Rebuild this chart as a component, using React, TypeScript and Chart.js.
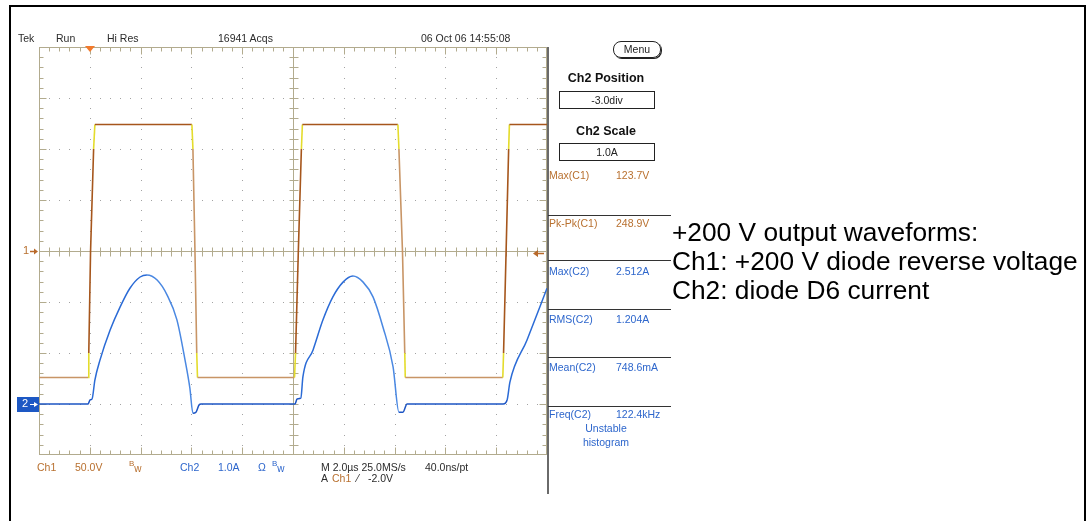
import React, { useEffect, useRef } from "react";
import { Chart, registerables } from "chart.js";

Chart.register(...registerables);

// ---- Data read from the capture (time in µs, 2 µs/div) ----
const ch1TimeUs = [0, 1.93, 1.96, 2.03, 2.15, 2.2, 6.02, 6.06, 6.14, 6.21, 6.24, 10.06, 10.1, 10.21, 10.33, 10.37, 14.13, 14.17, 14.31, 14.4, 14.42, 18.26, 18.29, 18.39, 18.49, 18.52, 20];
const ch1Volts = [-124, -124, -100, 0, 100, 124, 124, 100, 0, -100, -124, -124, -100, 0, 100, 124, 124, 100, 0, -100, -124, -124, -100, 0, 100, 124, 124];

const ch2TimeUs = [0, 1.93, 2.01, 2.09, 2.2, 2.4, 2.8, 3.19, 3.58, 3.98, 4.25, 4.65, 5.04, 5.43, 5.75, 5.94, 6.06, 6.18, 6.3, 6.38, 10.08, 10.16, 10.31, 10.39, 10.79, 11.18, 11.57, 11.97, 12.36, 12.76, 13.15, 13.54, 13.94, 14.17, 14.33, 14.49, 18.27, 18.43, 18.54, 19.21, 20];
const ch2Amps = [0, 0, 0.08, 0.1, 0.47, 0.86, 1.45, 1.9, 2.27, 2.49, 2.53, 2.43, 2.14, 1.65, 0.86, 0.31, -0.18, -0.16, -0.02, 0, 0, 0.1, 0.12, 0.53, 1.06, 1.65, 2.1, 2.39, 2.51, 2.39, 2.1, 1.51, 0.73, -0.16, -0.16, 0, 0, 0.08, 0.43, 1.25, 2.27];

const timeRangeUs = [0, 20];
const ch1RangeV = [-200, 200];
const ch2RangeA = [-1, 7];
const triggerTimeUs = 2.0;
const triggerLevelV = -2.0;

const headerLabels = ["Tek", "Run", "Hi Res", "16941 Acqs", "06 Oct 06 14:55:08"];
const c1Measures = [["Max(C1)", "123.7V"], ["Pk-Pk(C1)", "248.9V"]];
const c2Measures = [["Max(C2)", "2.512A"], ["RMS(C2)", "1.204A"], ["Mean(C2)", "748.6mA"], ["Freq(C2)", "122.4kHz"]];
const captionLines = ["+200 V output waveforms:", "Ch1: +200 V diode reverse voltage", "Ch2: diode D6 current"];

const SCOPE_FONT = '"Liberation Sans", Arial, sans-serif';
const ORANGE_TXT = "#b8702f";
const BLUE_TXT = "#2d66cc";
const GRAT = "#b2ab8e";

const graticulePlugin = {
  id: "graticule",
  beforeDatasetsDraw(chart: any) {
    const { ctx, chartArea: a } = chart;
    const xs = chart.scales.x;
    const ys = chart.scales.y;
    const L = Math.round(a.left) + 0.5;
    const R = Math.round(a.right) - 0.5;
    const T = Math.round(a.top) + 0.5;
    const B = Math.round(a.bottom) - 0.5;
    ctx.save();
    ctx.fillStyle = "#a3a3a3";
    for (let d = 1; d < 10; d++) {
      if (d === 5) continue;
      const px = Math.round(xs.getPixelForValue(d * 2));
      for (let s = 1; s < 40; s++) {
        const py = Math.round(ys.getPixelForValue(-200 + s * 10));
        ctx.fillRect(px, py, 1, 1);
      }
    }
    for (let d = 1; d < 8; d++) {
      if (d === 4) continue;
      const py = Math.round(ys.getPixelForValue(-200 + d * 50));
      for (let s = 1; s < 50; s++) {
        const px = Math.round(xs.getPixelForValue(s * 0.4));
        ctx.fillRect(px, py, 1, 1);
      }
    }
    ctx.strokeStyle = GRAT;
    ctx.lineWidth = 1;
    ctx.strokeRect(L, T, R - L, B - T);
    const cy = Math.round(ys.getPixelForValue(0)) + 0.5;
    const cx = Math.round(xs.getPixelForValue(10)) + 0.5;
    ctx.beginPath();
    ctx.moveTo(L, cy);
    ctx.lineTo(R, cy);
    ctx.moveTo(cx, T);
    ctx.lineTo(cx, B);
    for (let s = 1; s < 50; s++) {
      const px = Math.round(xs.getPixelForValue(s * 0.4)) + 0.5;
      const len = s % 5 === 0 ? 7 : 4;
      ctx.moveTo(px, T);
      ctx.lineTo(px, T + len);
      ctx.moveTo(px, B);
      ctx.lineTo(px, B - len);
      ctx.moveTo(px, cy - 4);
      ctx.lineTo(px, cy + 5);
    }
    for (let s = 1; s < 40; s++) {
      const py = Math.round(ys.getPixelForValue(-200 + s * 10)) + 0.5;
      const len = s % 5 === 0 ? 7 : 4;
      ctx.moveTo(L, py);
      ctx.lineTo(L + len, py);
      ctx.moveTo(R, py);
      ctx.lineTo(R - len, py);
      ctx.moveTo(cx - 4, py);
      ctx.lineTo(cx + 5, py);
    }
    ctx.stroke();
    ctx.restore();
  },
  afterDraw(chart: any) {
    const { ctx, chartArea: a } = chart;
    const xs = chart.scales.x;
    const ys = chart.scales.y;
    const y2s = chart.scales.y2;
    ctx.save();
    // trigger position marker
    const tx = Math.round(xs.getPixelForValue(triggerTimeUs));
    ctx.fillStyle = "#f27a2c";
    ctx.beginPath();
    ctx.moveTo(tx - 5, a.top - 1);
    ctx.lineTo(tx + 5, a.top - 1);
    ctx.lineTo(tx, a.top + 5);
    ctx.closePath();
    ctx.fill();
    // trigger level marker (right edge)
    const ly = Math.round(ys.getPixelForValue(triggerLevelV)) + 0.5;
    ctx.strokeStyle = "#b8692a";
    ctx.fillStyle = "#b8692a";
    ctx.lineWidth = 1.5;
    ctx.beginPath();
    ctx.moveTo(a.right - 3, ly);
    ctx.lineTo(a.right - 11, ly);
    ctx.stroke();
    ctx.beginPath();
    ctx.moveTo(a.right - 14, ly);
    ctx.lineTo(a.right - 9, ly - 3.5);
    ctx.lineTo(a.right - 9, ly + 3.5);
    ctx.closePath();
    ctx.fill();
    // ch1 ground marker arrow
    const g1 = Math.round(ys.getPixelForValue(0)) + 0.5;
    ctx.beginPath();
    ctx.moveTo(30, g1);
    ctx.lineTo(35, g1);
    ctx.stroke();
    ctx.beginPath();
    ctx.moveTo(38, g1);
    ctx.lineTo(34, g1 - 3);
    ctx.lineTo(34, g1 + 3);
    ctx.closePath();
    ctx.fill();
    // ch2 ground marker box + arrow
    const g2 = Math.round(y2s.getPixelForValue(0)) + 0.5;
    ctx.fillStyle = "#1d58c4";
    ctx.fillRect(17, g2 - 7.5, 22, 15);
    ctx.strokeStyle = "#fff";
    ctx.fillStyle = "#fff";
    ctx.lineWidth = 1;
    ctx.beginPath();
    ctx.moveTo(30, g2);
    ctx.lineTo(35, g2);
    ctx.stroke();
    ctx.beginPath();
    ctx.moveTo(38, g2);
    ctx.lineTo(34, g2 - 2.5);
    ctx.lineTo(34, g2 + 2.5);
    ctx.closePath();
    ctx.fill();
    ctx.restore();
  },
};

const ch1SegmentColor = (c: any) => {
  const a = c.p0.parsed.y;
  const b = c.p1.parsed.y;
  if (a > 110 && b > 110) return "#a6561c";
  if (a < -110 && b < -110) return "#c89566";
  const mid = (a + b) / 2;
  if (Math.abs(mid) > 105) return "#e4dc2c";
  return b > a ? "#a6561c" : "#c89566";
};

const ch2SegmentColor = (c: any) => {
  const a = c.p0.parsed.y;
  const b = c.p1.parsed.y;
  if (Math.max(a, b) < 0.2) return "#1d55c4";
  return b >= a ? "#2b6bd6" : "#4a88e2";
};

type TxtProps = {
  x: number;
  y: number;
  children: React.ReactNode;
  color?: string;
  size?: number;
  weight?: number;
  center?: boolean;
  font?: string;
};

const Txt = ({ x, y, children, color = "#2b2b2b", size = 10.5, weight = 400, center = false, font = SCOPE_FONT }: TxtProps) => (
  <div
    style={{
      position: "absolute",
      left: x,
      top: y - size * 0.6,
      fontSize: size,
      lineHeight: `${size * 1.2}px`,
      color,
      fontFamily: font,
      fontWeight: weight,
      whiteSpace: "nowrap",
      transform: center ? "translateX(-50%)" : undefined,
    }}
  >
    {children}
  </div>
);

const Bw = ({ x, y, color }: { x: number; y: number; color: string }) => (
  <div style={{ position: "absolute", left: x, top: y - 8, fontFamily: SCOPE_FONT, color, lineHeight: "10px", whiteSpace: "nowrap" }}>
    <span style={{ fontSize: 8, verticalAlign: "top" }}>B</span>
    <span style={{ fontSize: 10, position: "relative", top: 3 }}>w</span>
  </div>
);

export default function App() {
  const canvasRef = useRef<HTMLCanvasElement | null>(null);

  useEffect(() => {
    if (!canvasRef.current) return;
    const chart = new Chart(canvasRef.current, {
      type: "line",
      data: {
        datasets: [
          {
            label: "Ch1",
            data: ch1TimeUs.map((t, i) => ({ x: t, y: ch1Volts[i] })),
            yAxisID: "y",
            borderColor: "#a6561c",
            borderWidth: 1.6,
            pointRadius: 0,
            tension: 0,
            segment: { borderColor: ch1SegmentColor },
          },
          {
            label: "Ch2",
            data: ch2TimeUs.map((t, i) => ({ x: t, y: ch2Amps[i] })),
            yAxisID: "y2",
            borderColor: "#2563cf",
            borderWidth: 1.5,
            pointRadius: 0,
            cubicInterpolationMode: "monotone",
            segment: { borderColor: ch2SegmentColor },
          },
        ],
      },
      options: {
        responsive: false,
        animation: false,
        devicePixelRatio: 1,
        events: [],
        layout: { padding: { left: 39, top: 47, right: 543, bottom: 66 } },
        plugins: { legend: { display: false }, tooltip: { enabled: false }, title: { display: false } },
        scales: {
          x: { type: "linear", min: timeRangeUs[0], max: timeRangeUs[1], display: false },
          y: { type: "linear", min: ch1RangeV[0], max: ch1RangeV[1], display: false },
          y2: { type: "linear", min: ch2RangeA[0], max: ch2RangeA[1], display: false },
        },
      },
      plugins: [graticulePlugin],
    } as any);
    return () => chart.destroy();
  }, []);

  const headerX = [18, 56, 107, 218, 421];
  const c1Y = [175, 223];
  const c2Y = [271, 319, 367, 414];
  const sepY = [215, 260, 309, 357, 406];
  const capBaselines = [242, 271, 300];

  return (
    <div style={{ position: "absolute", left: 0, top: 0, width: 1090, height: 521, background: "#fff", overflow: "hidden" }}>
      <canvas ref={canvasRef} width={1090} height={521} style={{ position: "absolute", left: 0, top: 0 }} />

      {/* outer frame */}
      <div style={{ position: "absolute", left: 9, top: 5, width: 1077, height: 2, background: "#000" }} />
      <div style={{ position: "absolute", left: 9, top: 5, width: 2, height: 516, background: "#000" }} />
      <div style={{ position: "absolute", left: 1084, top: 5, width: 2, height: 516, background: "#000" }} />

      {/* scope screen right edge */}
      <div style={{ position: "absolute", left: 547, top: 47, width: 2, height: 447, background: "#6a6a6a" }} />

      {headerLabels.map((s, i) => (
        <Txt key={s} x={headerX[i]} y={38}>{s}</Txt>
      ))}

      {/* ground marker digits */}
      <Txt x={23} y={251} color={ORANGE_TXT} size={11}>1</Txt>
      <Txt x={22} y={404} color="#fff" size={11}>2</Txt>

      {/* right panel */}
      <div
        style={{
          position: "absolute", left: 613, top: 41, width: 46, height: 15, border: "1px solid #222", borderRadius: 8,
          boxShadow: "1px 1px 0 #222", fontFamily: SCOPE_FONT, fontSize: 10.5, lineHeight: "15px", textAlign: "center", color: "#222",
        }}
      >
        Menu
      </div>
      <Txt x={606} y={78} size={12.5} weight={700} center color="#111">Ch2 Position</Txt>
      <div style={{ position: "absolute", left: 559, top: 91, width: 94, height: 16, border: "1px solid #222", fontFamily: SCOPE_FONT, fontSize: 10.5, lineHeight: "16px", textAlign: "center", color: "#222" }}>-3.0div</div>
      <Txt x={606} y={131} size={12.5} weight={700} center color="#111">Ch2 Scale</Txt>
      <div style={{ position: "absolute", left: 559, top: 143, width: 94, height: 16, border: "1px solid #222", fontFamily: SCOPE_FONT, fontSize: 10.5, lineHeight: "16px", textAlign: "center", color: "#222" }}>1.0A</div>

      {sepY.map((y) => (
        <div key={y} style={{ position: "absolute", left: 548, top: y, width: 123, height: 1, background: "#333" }} />
      ))}
      {c1Measures.map(([k, v], i) => (
        <React.Fragment key={k}>
          <Txt x={549} y={c1Y[i]} color={ORANGE_TXT}>{k}</Txt>
          <Txt x={616} y={c1Y[i]} color={ORANGE_TXT}>{v}</Txt>
        </React.Fragment>
      ))}
      {c2Measures.map(([k, v], i) => (
        <React.Fragment key={k}>
          <Txt x={549} y={c2Y[i]} color={BLUE_TXT}>{k}</Txt>
          <Txt x={616} y={c2Y[i]} color={BLUE_TXT}>{v}</Txt>
        </React.Fragment>
      ))}
      <Txt x={606} y={428} color={BLUE_TXT} center>Unstable</Txt>
      <Txt x={606} y={442} color={BLUE_TXT} center>histogram</Txt>

      {/* bottom status */}
      <Txt x={37} y={467} color={ORANGE_TXT}>Ch1</Txt>
      <Txt x={75} y={467} color={ORANGE_TXT}>50.0V</Txt>
      <Bw x={129} y={467} color={ORANGE_TXT} />
      <Txt x={180} y={467} color={BLUE_TXT}>Ch2</Txt>
      <Txt x={218} y={467} color={BLUE_TXT}>1.0A</Txt>
      <Txt x={258} y={467} color={BLUE_TXT}>Ω</Txt>
      <Bw x={272} y={467} color={BLUE_TXT} />
      <Txt x={321} y={467}>M 2.0µs 25.0MS/s</Txt>
      <Txt x={425} y={467}>40.0ns/pt</Txt>
      <Txt x={321} y={478}>A</Txt>
      <Txt x={332} y={478} color={ORANGE_TXT}>Ch1</Txt>
      <Txt x={357} y={478}>⁄</Txt>
      <Txt x={368} y={478}>-2.0V</Txt>

      {/* caption */}
      {captionLines.map((s, i) => (
        <div
          key={s}
          style={{
            position: "absolute", left: 672, top: capBaselines[i] - 25, fontSize: 26.3, lineHeight: "31px",
            fontFamily: '"Liberation Sans", Arial, Helvetica, sans-serif', color: "#000", whiteSpace: "nowrap",
          }}
        >
          {s}
        </div>
      ))}
    </div>
  );
}
